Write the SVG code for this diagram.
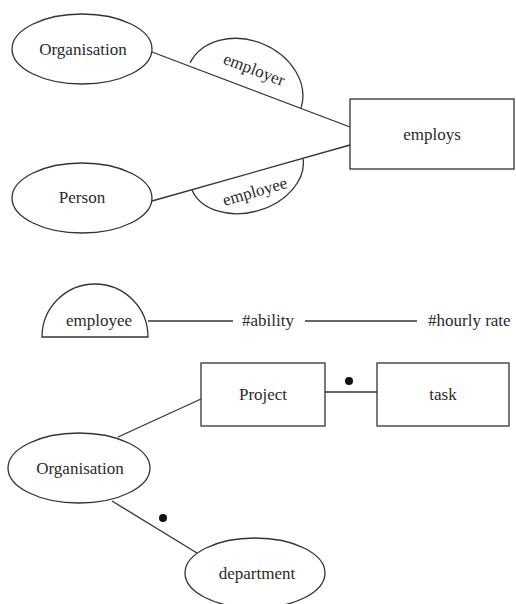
<svg xmlns="http://www.w3.org/2000/svg" width="516" height="604" viewBox="0 0 516 604" font-family="'Liberation Serif', 'DejaVu Serif', serif">
<style>
.s{fill:none;stroke:#333;stroke-width:1.3}
.f{fill:#fff;stroke:#333;stroke-width:1.3}
text{font-family:'Liberation Serif','DejaVu Serif',serif;font-size:17px;fill:#2a2a2a;text-anchor:middle}
.l{text-anchor:start}
</style>
<rect width="516" height="604" fill="#fff"/>
<g id="connectors">
<line class="s" x1="152" y1="52" x2="350" y2="127"/>
<line class="s" x1="152" y1="201" x2="350" y2="145"/>
<line class="s" x1="148" y1="321" x2="233" y2="321"/>
<line class="s" x1="305" y1="321" x2="417" y2="321"/>
<line class="s" x1="325" y1="392" x2="377" y2="392"/>
<line class="s" x1="118" y1="437" x2="201" y2="399"/>
<line class="s" x1="112" y1="501" x2="197" y2="553"/>
<circle cx="349" cy="381" r="4" fill="#111"/>
<circle cx="163" cy="518" r="4" fill="#111"/>
</g>
<g id="organisation1">
<ellipse class="f" cx="82" cy="49" rx="70" ry="35"/>
<text x="83" y="55">Organisation</text>
</g>
<g id="person">
<ellipse class="f" cx="82" cy="198" rx="70" ry="35"/>
<text x="82" y="203">Person</text>
</g>
<g id="employer-role">
<path class="s" d="M190,63 A60,48 22 0 1 301,108"/>
<text x="254" y="75" transform="rotate(21 254 70)">employer</text>
</g>
<g id="employee-role">
<path class="s" d="M192,190 A58,42 -16 0 0 303,158"/>
<text x="255" y="197" transform="rotate(-16 255 192)">employee</text>
</g>
<g id="employs">
<rect class="f" x="350" y="99" width="164" height="70"/>
<text x="432" y="140">employs</text>
</g>
<g id="employee-half">
<path class="f" d="M42,337 A53,53 0 0 1 148,337 Z"/>
<text x="99" y="326">employee</text>
</g>
<g id="ability">
<text class="l" x="242" y="326">#ability</text>
</g>
<g id="hourly-rate">
<text class="l" x="428" y="326">#hourly rate</text>
</g>
<g id="project">
<rect class="f" x="201" y="363" width="124" height="63"/>
<text x="263" y="400">Project</text>
</g>
<g id="task">
<rect class="f" x="377" y="363" width="132" height="63"/>
<text x="443" y="400">task</text>
</g>
<g id="organisation2">
<ellipse class="f" cx="79" cy="468" rx="71" ry="35"/>
<text x="80" y="474">Organisation</text>
</g>
<g id="department">
<ellipse class="f" cx="255" cy="573" rx="70" ry="35"/>
<text x="257" y="579">department</text>
</g>
</svg>
